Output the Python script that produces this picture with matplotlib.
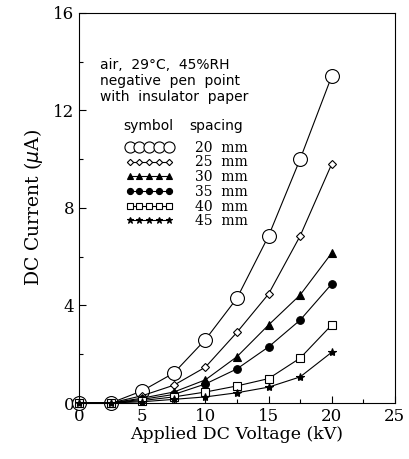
import numpy as np
import matplotlib
matplotlib.use("Agg")
import matplotlib.pyplot as plt

# applied voltage (kV)
voltage = [0, 2.5, 5, 7.5, 10, 12.5, 15, 17.5, 20]

# DC current (uA) for each gap spacing
cur_20 = [0, 0, 0.5, 1.23, 2.6, 4.3, 6.85, 10.0, 13.4]
cur_25 = [0, 0, 0.3, 0.73, 1.47, 2.9, 4.47, 6.85, 9.8]
cur_30 = [0, 0, 0.2, 0.45, 0.95, 1.9, 3.2, 4.43, 6.15]
cur_35 = [0, 0, 0.15, 0.35, 0.78, 1.4, 2.3, 3.4, 4.88]
cur_40 = [0, 0, 0.1, 0.25, 0.45, 0.7, 1.0, 1.84, 3.2]
cur_45 = [0, 0, 0.05, 0.15, 0.25, 0.42, 0.65, 1.07, 2.08]

spacing_labels = ["20  mm", "25  mm", "30  mm", "35  mm", "40  mm", "45  mm"]
series = [cur_20, cur_25, cur_30, cur_35, cur_40, cur_45]

# marker, size, filled
styles = [("o", 10, False), ("D", 4, False), ("^", 6, True),
          ("o", 5.5, True), ("s", 6, False), ("*", 6, True)]

fig = plt.figure(figsize=(4.1, 4.59), dpi=100)
ax = fig.add_axes([0.193, 0.122, 0.77, 0.85])

handles = []
for vals, lab, (mk, ms, filled) in zip(series, spacing_labels, styles):
    h, = ax.plot(voltage, vals, color="black", lw=0.8, marker=mk, ms=ms,
                 mfc="black" if filled else "white", mec="black", mew=0.8,
                 clip_on=False, label=lab)
    handles.append(h)

ax.set_xlim(0, 25)
ax.set_ylim(0, 16)
ax.set_xticks([0, 5, 10, 15, 20, 25])
ax.set_xticks(np.arange(0, 25, 2.5), minor=True)
ax.set_yticks([0, 4, 8, 12, 16])
ax.set_yticks(np.arange(0, 16, 2), minor=True)
ax.tick_params(which="both", direction="in", top=False, right=False,
               labelsize=12, width=0.8)
ax.tick_params(which="major", length=5)
ax.tick_params(which="minor", length=3)
for lbl in ax.get_xticklabels() + ax.get_yticklabels():
    lbl.set_family("DejaVu Serif")

for sp in ax.spines.values():
    sp.set_linewidth(0.8)

ax.set_xlabel("Applied DC Voltage (kV)", family="DejaVu Serif", fontsize=12.5,
              labelpad=1)
ax.set_ylabel(r"DC Current ($\mu$A)", family="DejaVu Serif", fontsize=13.5,
              labelpad=6)

notes = "air,  29°C,  45%RH\nnegative  pen  point\nwith  insulator  paper"
ax.text(0.066, 0.885, notes, transform=ax.transAxes, family="DejaVu Sans",
        fontsize=10, va="top", ha="left", linespacing=1.18)
ax.text(0.14, 0.71, "symbol", transform=ax.transAxes, family="DejaVu Sans",
        fontsize=10, va="center", ha="left")
ax.text(0.35, 0.71, "spacing", transform=ax.transAxes, family="DejaVu Sans",
        fontsize=10, va="center", ha="left")

leg = ax.legend(handles=handles, loc="upper left", bbox_to_anchor=(0.125, 0.69),
                frameon=False, numpoints=5, handlelength=3.4, handletextpad=1.6,
                labelspacing=0.05, borderpad=0, markerscale=0.8,
                prop={"family": "DejaVu Serif", "size": 10})

fig.savefig("out.png", dpi=100)
